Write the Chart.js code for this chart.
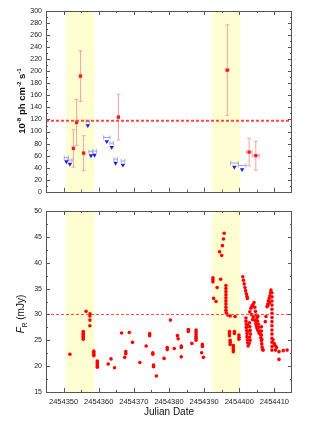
<!DOCTYPE html>
<html><head><meta charset="utf-8">
<script src="https://cdn.jsdelivr.net/npm/chart.js@4/dist/chart.umd.min.js"></script>
<style>
html,body{margin:0;padding:0;background:#fff;width:321px;height:423px;overflow:hidden;font-family:"Liberation Sans",Arial,sans-serif}
#wrap{position:relative;width:321px;height:423px}
#c1{position:absolute;left:0;top:0}
#c2{position:absolute;left:0;top:200px}
.yt{position:absolute;transform:translate(-50%,-50%) rotate(-90deg);white-space:nowrap;color:#111;line-height:1}
.yt sup,.yt sub{font-size:65%}
</style></head>
<body><div id="wrap">
<canvas id="c1" width="321" height="200" style="width:321px;height:200px"></canvas>
<canvas id="c2" width="321" height="223" style="width:321px;height:223px"></canvas>
<div class="yt" style="left:21px;top:101px;font-size:9.5px;font-weight:bold">10<sup>-8</sup> ph cm<sup>-2</sup> s<sup>-1</sup></div>
<div class="yt" style="left:22px;top:314px;font-size:10px"><i>F</i><sub>R</sub> (mJy)</div>
</div>
<script>
// ---------- data ----------
const jdBase = 2454000;
const xMin = 2454345, xMax = 2454415;
const xTicks = [2454350, 2454360, 2454370, 2454380, 2454390, 2454400, 2454410];
const bands = [[2454350.7, 2454358.8], [2454392.2, 2454400.3]];

// gamma-ray fluxes (10^-8 ph cm^-2 s^-1)
const gammaDay  = [352.8, 353.7, 354.8, 355.7, 365.6, 396.6, 402.8, 404.7];
const gammaFlux = [72, 115, 192, 64, 124, 202, 66, 60];
const gammaErr  = [31, 38, 42, 29, 38, 75, 23, 24];
const gammaXErr = [0.3, 0.3, 0.3, 0.3, 0.3, 0.5, 0.85, 1.0];
const gammaMean = 118;

// gamma-ray upper limits
const ulDay  = [350.8, 351.8, 356.9, 357.8, 358.8, 362.3, 363.7, 364.8, 366.9, 398.6, 400.8];
const ulFlux = [50, 46, 110, 60, 61, 83.5, 74, 47.5, 44.5, 41, 37];
const ulXErr = [0.6, 0.6, 0.5, 0.6, 0.6, 0.9, 0.5, 0.5, 0.5, 1.1, 1.1];

// optical R-band flux (mJy)
const optDay = [
 351.8, 355.6,355.6,355.6,355.6,355.6,355.6, 356.4, 357.5,357.5,357.5,357.5,
 358.6,358.6,358.6,358.6, 359.6,359.6,359.6,359.6,359.6,
 362.7, 363.5, 364.5, 366.5, 367.4, 367.7,367.7, 368.7, 369.6, 371.7, 373.5,
 374.5,374.5, 375.4,375.4, 375.6,375.6, 376.4, 378.6, 379.5,379.5, 380.4, 381.5,
 382.4, 382.6, 383.5,383.5,383.5, 385.5,385.5, 386.5,
 387.7,387.7,387.7,387.7,387.7,387.7, 389.5,389.5, 389.3, 389.8,
 392.5,392.5,392.5, 392.7, 393.4, 393.7, 394.4, 394.7, 395.0, 395.2, 395.5, 395.7,
 396.2,396.2,396.2,396.2,396.2,396.2,396.2,396.2,396.2,396.3, 396.7, 397.4, 398.8,
 397.2,397.2,397.2, 397.4,397.4,397.4, 398.3,398.3,398.3,398.3, 398.6,398.6,
 399.9,399.9,399.9,
 401.0,401.2,401.4,401.6,401.8,402.0,402.2,402.3,
 401.9,401.9,402.0,402.0,402.1,402.2,402.2,402.3,402.4,402.5,402.6,402.7,402.8,
 402.9,403.0,403.1,403.2,402.9,403.1,
 403.0,403.3,403.5,403.6,403.8,403.9,404.0,404.2,404.4,404.6,404.8,405.0,405.2,405.4,405.3,
 404.5,404.7,404.9,405.1,405.3,405.6,
 405.5,405.7,405.9,406.1,406.3,406.4,406.5,406.6,406.3,406.3,406.3,406.4,406.8,
 407.4,407.6,407.9,408.1,408.2,408.3,408.5,408.6,408.7,408.9,409.0,
 409.3,409.3,409.3,409.3,409.3,409.3,409.3,409.3,409.3,409.3,409.3,409.3,409.3,409.3,409.3,
 409.6,409.9,410.2,410.6,410.3, 411.3,411.3, 412.5, 413.6
];
const optFlux = [
 22.3, 26.7,26.4,26.1,25.8,25.5,25.2, 30.6, 30.1,29.7,28.9,27.8,
 22.9,22.6,22.3,22.0, 21.0,20.7,20.4,20.1,19.8,
 20.4, 21.4, 19.7, 26.4, 21.7, 22.8,22.4, 26.5, 24.6, 20.7, 23.9,
 26.3,25.9, 22.6,22.3, 20.2,19.9, 18.1, 21.5, 23.6,23.2, 28.9, 23.4,
 25.9, 25.3, 23.9,23.6,21.8, 27.1,26.7, 24.4,
 27.0,26.6,26.2,25.8,25.4,25.0, 24.2,23.8, 22.6, 21.7,
 37.1,36.7,36.3, 33.1, 32.5, 35.2, 42.1, 36.8, 41.4, 43.3, 44.6, 45.7,
 35.6,35.0,34.4,33.8,33.2,32.6,32.0,31.4,30.8,30.3, 29.9, 29.7, 29.6,
 26.7,26.3,25.9, 25.0,24.6,24.2, 24.0,23.6,23.2,22.8, 26.7,26.3,
 26.0,25.6,25.2,
 37.3,36.6,35.9,35.2,34.6,34.0,33.5,33.1,
 29.3,28.7,28.1,27.5,26.9,26.3,25.7,25.1,24.5,23.9,27.8,26.8,24.4,
 28.4,27.6,26.9,26.2,25.6,25.0,
 30.5,31.2,30.0,31.6,29.0,31.9,29.5,32.3,31.4,30.6,29.9,29.3,28.7,28.1,29.6,
 28.8,28.2,27.7,27.3,26.9,26.4,
 27.5,26.8,26.2,25.5,24.9,24.3,23.7,23.2,27.6,26.8,26.0,25.2,23.1,
 28.6,29.6,31.5,32.0,31.8,32.6,33.1,32.3,33.6,34.2,34.7,
 34.2,33.4,32.6,31.8,31.0,30.2,29.4,28.6,27.8,27.0,26.2,25.4,24.6,23.8,23.1,
 25.1,24.4,24.0,23.6,23.1, 21.3,22.8, 23.0, 23.1
];
const optMean = 30;

const yTicksTop = {min: 0, max: 300, step: 20};
const yTicksBot = {min: 15, max: 50, step: 5};

// ---------- helpers ----------
const pts = (days, vals) => days.map((d, i) => ({x: jdBase + d, y: vals[i]}));

const decorPlugin = {
  id: 'decor',
  beforeDatasetsDraw(chart) {
    const {ctx, chartArea: a, scales: {x, y}} = chart;
    ctx.save();
    ctx.fillStyle = '#ffffd2';
    bands.forEach(([b0, b1]) => {
      const p0 = x.getPixelForValue(b0), p1 = x.getPixelForValue(b1);
      ctx.fillRect(p0, a.top, p1 - p0, a.bottom - a.top);
    });
    chart.data.datasets.forEach(ds => {
      if (!ds.errY && !ds.errX) return;
      ctx.strokeStyle = ds.errColor;
      ctx.lineWidth = 1;
      ds.data.forEach((d, i) => {
        const px = x.getPixelForValue(d.x);
        const py = y.getPixelForValue(d.y) + (ds.errXOffset || 0);
        ctx.beginPath();
        if (ds.errY) {
          const t = y.getPixelForValue(d.y + ds.errY[i]), b = y.getPixelForValue(d.y - ds.errY[i]);
          ctx.moveTo(px, t); ctx.lineTo(px, b);
          ctx.moveTo(px - 2, t); ctx.lineTo(px + 2, t);
          ctx.moveTo(px - 2, b); ctx.lineTo(px + 2, b);
        }
        if (ds.errX) {
          const l = x.getPixelForValue(d.x - ds.errX[i]), r = x.getPixelForValue(d.x + ds.errX[i]);
          ctx.moveTo(l, py); ctx.lineTo(r, py);
          ctx.moveTo(l, py - 2); ctx.lineTo(l, py + 2);
          ctx.moveTo(r, py - 2); ctx.lineTo(r, py + 2);
        }
        ctx.stroke();
      });
    });
    ctx.restore();
  },
  afterDraw(chart) {
    const {ctx, chartArea: a, scales: {x, y}} = chart;
    ctx.save();
    ctx.strokeStyle = '#555';
    ctx.lineWidth = 1;
    ctx.strokeRect(Math.round(a.left) + 0.5, Math.round(a.top) + 0.5, Math.round(a.right - a.left) - 1, Math.round(a.bottom - a.top));
    const draw = (scale, horiz) => {
      const vals = scale.ticks.map(t => t.value);
      const marks = [];
      vals.forEach((v, i) => {
        marks.push([v, 4]);
        if (i < vals.length - 1) marks.push([(v + vals[i + 1]) / 2, 2]);
      });
      if (vals.length > 1) {
        const st = vals[1] - vals[0];
        if (vals[0] - st / 2 > scale.min) marks.push([vals[0] - st / 2, 2]);
        const lv = vals[vals.length - 1];
        if (lv + st / 2 < scale.max) marks.push([lv + st / 2, 2]);
      }
      ctx.beginPath();
      marks.forEach(([v, len]) => {
        const p = Math.round(scale.getPixelForValue(v)) + 0.5;
        if (horiz) {
          ctx.moveTo(p, a.bottom); ctx.lineTo(p, a.bottom - len);
          ctx.moveTo(p, a.top); ctx.lineTo(p, a.top + len);
        } else {
          ctx.moveTo(a.left, p); ctx.lineTo(a.left + len, p);
          ctx.moveTo(a.right, p); ctx.lineTo(a.right - len, p);
        }
      });
      ctx.stroke();
    };
    draw(x, true);
    draw(y, false);
    ctx.restore();
  }
};

const tickFont = {family: '"Liberation Sans", Arial, sans-serif', size: 7.5};

function xAxis(showLabels, h) {
  return {
    type: 'linear', min: xMin, max: xMax,
    afterBuildTicks: s => { s.ticks = xTicks.map(v => ({value: v})); },
    afterFit: s => { s.height = h; },
    grid: {display: false, drawTicks: false},
    border: {display: false},
    ticks: {display: showLabels, font: tickFont, color: '#222', padding: 5, maxRotation: 0, autoSkip: false,
            callback: v => String(v)},
    title: showLabels ? {display: true, text: 'Julian Date', color: '#111',
            font: {family: '"Liberation Sans", Arial, sans-serif', size: 10}, padding: {top: 0, bottom: 5}} : {display: false}
  };
}
function yAxis(t) {
  return {
    type: 'linear', min: t.min, max: t.max,
    afterFit: s => { s.width = 46; },
    grid: {display: false, drawTicks: false},
    border: {display: false},
    ticks: {stepSize: t.step, font: {family: '"Liberation Sans", Arial, sans-serif', size: 7}, color: '#222', padding: 4}
  };
}
const common = {
  responsive: false, animation: false, devicePixelRatio: 1,
  plugins: {legend: {display: false}, tooltip: {enabled: false}},
  events: []
};

new Chart(document.getElementById('c1'), {
  type: 'scatter',
  data: {datasets: [
    {data: [{x: xMin, y: gammaMean}, {x: xMax, y: gammaMean}], showLine: true, borderColor: '#ff4545',
     borderWidth: 2, borderDash: [3, 2], pointRadius: 0},
    {data: pts(gammaDay, gammaFlux), errY: gammaErr, errX: gammaXErr, errColor: '#f5a3a3',
     pointStyle: 'rect', pointRadius: 2.3, backgroundColor: '#ff1a1a', borderColor: '#ff1a1a', borderWidth: 0},
    {data: pts(ulDay, ulFlux), errX: ulXErr, errXOffset: -4, errColor: '#9aa6ec',
     pointStyle: 'triangle', rotation: 180, pointRadius: 2.6, backgroundColor: '#1a1aff', borderColor: '#1a1aff', borderWidth: 0}
  ]},
  options: Object.assign({}, common, {
    layout: {padding: {top: 11, right: 29, left: 0, bottom: 0}},
    scales: {x: xAxis(false, 8), y: yAxis(yTicksTop)}
  }),
  plugins: [decorPlugin]
});

new Chart(document.getElementById('c2'), {
  type: 'scatter',
  data: {datasets: [
    {data: [{x: xMin, y: optMean}, {x: xMax, y: optMean}], showLine: true, borderColor: '#ff4545',
     borderWidth: 1, borderDash: [3, 2], pointRadius: 0},
    {data: pts(optDay, optFlux), pointStyle: 'circle', pointRadius: 1.8, backgroundColor: '#ff0000', borderWidth: 0}
  ]},
  options: Object.assign({}, common, {
    layout: {padding: {top: 11, right: 29, left: 0, bottom: 0}},
    scales: {x: xAxis(true, 31), y: yAxis(yTicksBot)}
  }),
  plugins: [decorPlugin]
});
</script>
</body></html>
